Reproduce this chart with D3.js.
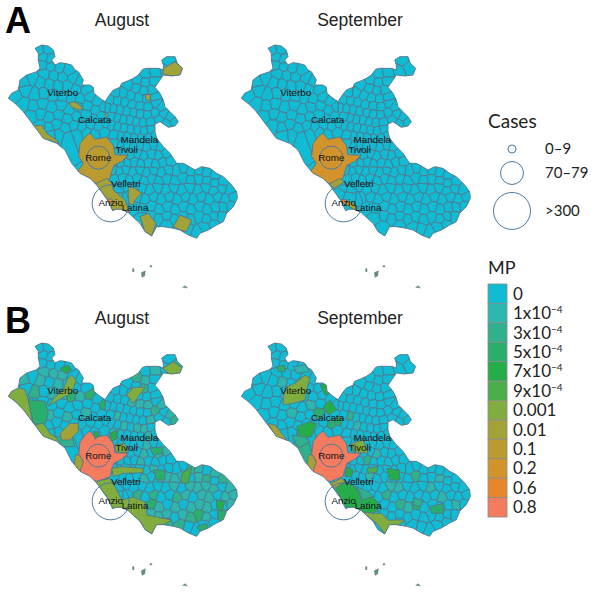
<!DOCTYPE html>
<html>
<head>
<meta charset="utf-8">
<script src="https://d3js.org/d3.v7.min.js"></script>
<style>
  html, body { margin: 0; padding: 0; background: #fff; }
  svg { display: block; }
</style>
</head>
<body>
<div id="chart"></div>
<script>
// MP classes
const mpBase = ["0","1x10","3x10","5x10","7x10","9x10","0.001","0.01","0.1","0.2","0.6","0.8"];
const mpExp = ["","−4","−4","−4","−4","−4","","","","","",""];
const mpColors = ["#10bcd3","#2cb6ad","#2fb18d","#2aae6c","#25ad4a","#4aae4a","#80ad3e","#a3a238","#bb9a30","#d2942a","#e8872a","#f47b5e"];

// cases legend
const caseLabels = ["0–9","70–79",">300"];
const caseValues = [5,75,300];

// places, in map units
const placeNames = ["Viterbo","Calcata","Mandela","Tivoli","Rome","Velletri","Anzio","Latina"];
const placeX = [188,284,418,380,295,377,332,405];
const placeY = [278,360,418,448,474,552,608,622];
const caseCircles = [{name:"Rome",u:295,v:473,cases:75},{name:"Anzio",u:332,v:610,cases:300}];

// region outline, in map units
const lazioOutline = [[105,145],[125,135],[145,138],[160,150],[165,170],[155,180],[165,195],[180,188],[195,190],[215,195],[225,210],[235,215],[250,240],[245,255],[270,255],[280,262],[282,280],[300,295],[315,305],[328,285],[340,270],[360,262],[365,250],[385,242],[400,235],[415,225],[428,208],[440,205],[475,205],[490,210],[490,195],[485,180],[500,170],[525,170],[532,190],[548,205],[540,225],[515,228],[490,225],[480,240],[465,262],[480,280],[490,300],[495,320],[510,335],[525,350],[535,365],[525,378],[505,382],[480,365],[465,372],[465,395],[470,415],[490,440],[510,460],[530,490],[550,490],[565,498],[585,510],[605,500],[630,505],[650,520],[670,530],[695,555],[710,575],[712,595],[700,620],[680,640],[670,665],[650,675],[625,690],[600,700],[590,715],[565,705],[540,690],[520,685],[490,680],[470,680],[455,708],[435,695],[420,670],[400,652],[385,638],[365,628],[348,628],[338,632],[322,600],[290,555],[270,535],[240,520],[215,490],[195,450],[170,430],[130,415],[100,375],[70,335],[45,310],[25,295],[35,280],[55,270],[60,240],[80,225],[110,215],[120,205],[115,180],[115,160]];
const islands = [[[398,806],[402,806],[402,815],[398,815]],[[424,818],[436,812],[434,828],[426,832]],[[450,797],[456,797],[455,801],[450,801]],[[548,862],[556,857],[562,864]]];

// one point per municipality
const municipalities = [
  [118,150],[142,148],[132,172],[150,178],[128,195],[152,200],[178,205],[205,212],[135,222],[160,226],[188,230],[218,235],[240,245],
  [72,245],[98,236],[122,246],[148,252],[175,258],[203,257],[228,268],[258,272],
  [48,285],[78,272],[104,283],[132,280],[160,284],[188,290],[214,292],[240,296],[268,290],[292,304],
  [72,312],[100,318],[128,312],[155,322],[184,316],[208,330],[234,322],[262,318],[288,330],[310,322],
  [96,348],[122,342],[148,352],[176,346],[204,356],[230,350],[258,344],[282,358],[304,348],
  [122,378],[146,382],[170,372],[196,384],[222,376],[246,382],[272,372],[296,380],[318,370],
  [152,406],[178,404],[204,412],[232,402],[258,396],[285,402],[312,396],
  [510,185],[522,200],[500,210],[462,218],[438,222],[412,240],[436,246],[462,244],[385,255],[408,264],[432,272],[456,270],
  [348,278],[370,280],[392,288],[416,294],[440,296],[464,292],[330,300],[352,302],[374,306],[396,314],[420,318],[444,320],[468,310],[484,322],
  [322,322],[340,326],[360,330],[380,334],[400,338],[420,342],[442,344],[466,338],[490,342],[510,352],[522,366],
  [335,350],[352,354],[370,358],[390,360],[408,366],[428,368],[450,366],[478,358],[500,370],
  [335,375],[352,380],[372,384],[392,388],[412,390],[432,392],[452,388],[345,405],[362,408],[382,410],[402,414],[424,416],[446,414],[464,404],
  [345,430],[362,436],[380,432],[400,440],[420,438],[440,442],[462,436],[480,440],
  [355,460],[372,462],[392,466],[412,460],[432,468],[454,462],[476,466],[498,460],
  [345,484],[362,488],[382,490],[402,486],[422,492],[444,488],[466,494],[488,486],[510,484],
  [340,510],[358,514],[378,508],[398,516],[420,510],[440,518],[462,512],[484,518],[506,510],[530,512],[550,506],[572,514],[596,512],[620,518],[644,526],
  [345,538],[366,532],[388,540],[410,534],[432,542],[454,534],[476,542],[500,536],[524,544],[548,532],[572,540],[596,536],[620,542],[644,548],[668,546],
  [300,546],[330,560],[355,566],[380,558],[402,570],[426,562],[450,572],[474,562],[498,570],[522,562],[546,572],[570,562],[594,570],[618,562],[642,572],[666,564],[690,570],
  [318,578],[352,590],[385,592],[412,590],[436,598],[460,590],[484,598],[508,590],[532,598],[556,590],[580,598],[604,590],[628,598],[652,590],[676,598],[700,590],
  [405,622],[430,626],[454,618],[478,628],[502,620],[526,628],[550,620],[574,628],[598,620],[622,628],[646,622],[670,620],[692,618],
  [428,652],[452,648],[476,656],[500,650],[524,658],[548,650],[572,658],[596,650],[620,658],[644,650],[664,650],
  [450,680],[500,672],[540,680],[565,685],[590,695],[615,680],[640,672]
];

// whole patches per panel: [class, polygon]
const romeShape = [[270,399],[285,418],[320,411],[340,436],[345,464],[385,466],[365,484],[342,496],[335,516],[330,536],[290,551],[260,536],[232,516],[250,490],[236,470],[240,431],[255,411]];
const romeWest = [[226,471],[238,470],[250,492],[238,524],[222,508]];

const augustA = [
  [8,romeShape],[7,[[490,205],[525,185],[548,205],[540,225],[515,228],[488,222]]],
  [7,[[435,285],[450,282],[452,298],[440,302]]],[7,[[208,308],[225,305],[250,325],[235,330],[212,320]]],
  [7,[[100,378],[125,375],[140,400],[170,420],[178,432],[150,420],[125,418]]],[7,[[310,335],[325,345],[320,352]]],
  [7,[[285,552],[320,535],[335,550],[340,570],[375,600],[390,640],[360,635],[340,635],[320,595]]],
  [7,[[385,560],[405,565],[425,580],[405,600],[400,615],[385,610]]],[7,[[420,650],[445,640],[468,670],[455,708],[435,695]]],
  [7,[[520,680],[540,645],[575,660],[560,695],[540,690]]],[10,[[322,598],[335,596],[340,605],[328,612]]]
];
const septemberA = [
  [9,romeShape],[7,[[289,552],[321,535],[333,545],[306,568]]],[10,[[326,597],[341,600],[339,615],[329,610]]],
  [7,[[341,600],[361,610],[381,635],[366,630],[339,615]]]
];
const augustB = [
  [6,[[20,295],[40,265],[75,275],[85,305],[100,378],[70,340]]],
  [3,[[85,305],[135,310],[145,345],[135,378],[100,378]]],
  [11,romeShape],[7,romeWest],[6,[[345,441],[375,436],[385,464],[348,462]]],
  [6,[[100,381],[130,376],[150,406],[180,426],[175,446],[140,426],[125,416]]],
  [2,[[165,416],[215,416],[225,446],[190,446]]],[7,[[180,406],[210,376],[235,376],[235,401],[210,426],[185,426]]],
  [6,[[145,324],[165,296],[190,276],[200,246],[215,231],[228,246],[222,268],[205,291],[185,301]]],
  [4,[[180,211],[205,201],[215,216],[195,226]]],[6,[[488,211],[520,191],[548,211],[540,231],[510,231]]],
  [6,[[380,291],[400,268],[435,268],[415,296],[400,316]]],
  [6,[[285,551],[330,541],[350,575],[366,606],[399,597],[435,612],[441,651],[516,666],[480,686],[455,708],[435,695],[420,670],[400,652],[385,640],[360,635],[340,635],[320,595]]],
  [3,[[450,451],[485,446],[490,466],[460,471]]],[3,[[460,516],[495,516],[495,546],[470,546]]],[5,[[545,526],[575,506],[565,556],[545,556]]],
  [4,[[650,606],[675,611],[665,641],[650,631]]],[3,[[590,686],[620,676],[625,696],[600,701]]],[5,[[630,691],[650,686],[645,708],[630,701]]],
  [6,[[335,511],[365,506],[430,511],[430,524],[370,526],[340,536]]],[4,[[280,401],[295,401],[295,416],[285,424]]],[4,[[330,406],[350,396],[352,421],[335,431]]]
];
const septemberB = [
  [11,romeShape],[7,romeWest],[7,[[106,376],[126,381],[146,406],[166,431],[146,421],[126,416]]],
  [6,[[151,321],[151,296],[161,266],[186,256],[216,231],[231,241],[221,276],[216,306],[181,316]]],
  [4,[[261,261],[281,256],[291,286],[276,291]]],[4,[[271,326],[291,306],[311,336],[286,351]]],[3,[[131,206],[156,201],[156,221],[136,221]]],[1,[[181,206],[216,201],[231,221],[191,226]]],
  [4,[[191,386],[231,371],[251,376],[236,416],[201,421]]],[2,[[176,411],[216,416],[231,431],[196,451]]],
  [4,[[306,571],[336,551],[366,566],[381,586],[421,596],[441,626],[421,646],[376,645],[345,635],[330,610]]],[2,[[371,566],[406,581],[421,596],[386,606]]],
  [7,[[291,556],[326,541],[336,551],[306,571]]],
  [6,[[376,640],[421,646],[446,646],[466,666],[516,666],[491,686],[456,708],[431,676],[406,656]]],
  [4,[[461,511],[499,516],[501,546],[471,546]]],[5,[[401,511],[436,506],[431,524],[406,526]]],[4,[[341,506],[361,516],[356,536],[336,536]]],
  [2,[[541,601],[571,606],[561,626],[541,621]]],[3,[[591,626],[631,616],[631,646],[596,646]]],[6,[[356,436],[391,426],[406,466],[361,461]]]
];

// single municipalities per panel: [class, points inside them]
const augustBCells = [
  [1,[[78,245],[175,258],[148,226],[438,246],[462,218],[510,352],[484,322],[450,366],[598,620],[526,628],[548,650],[620,658],[500,650],[524,544],[596,536],[628,598],[478,628],[405,622],[352,354],[258,344],[122,246],[160,284],[240,296],[204,356],[372,462],[432,542],[572,562],[642,572],[690,570],
      [596,512],[644,526],[548,532],[500,536],[476,542],[522,562],[594,570],[618,562],[556,590],[604,590],[676,598],[700,590],[574,628],[622,628],[692,618],[596,650],[476,656],[428,652],[452,648],[432,468],[476,466],[498,460],[422,492],[462,512],[396,314],[420,318],[444,320],[96,348],[122,342],[148,352],[135,222],[188,230],[372,384],[412,390],[432,392],[345,405],[446,414],[440,442]]],
  [2,[[104,283],[432,272],[522,200],[572,658],[540,680],[500,672],[532,598],[460,590],[412,590],[466,338],[522,366],[408,240],[620,542],[668,546],[572,514]]],
  [3,[[214,292],[268,290],[310,322],[664,650],[596,650],[454,618]]]
];
const septemberBCells = [
  [1,[[234,322],[176,346],[372,384],[410,534],[498,570],[596,570],[620,542],[148,252],[432,468],[476,566],[522,620],[620,590],[670,620]]],
  [2,[[352,354],[548,532],[460,590],[204,412],[498,620],[410,490]]],
  [3,[[296,380],[318,370],[550,620],[258,344]]]
];

// the four maps, with where each sits on the page
const panels = [
  {x:0,y:0,titleX:122,title:"August",patches:augustA,cells:[]},
  {x:233,y:0,titleX:127,title:"September",patches:septemberA,cells:[]},
  {x:0,y:298,titleX:122,title:"August",patches:augustB,cells:augustBCells},
  {x:233,y:298,titleX:127,title:"September",patches:septemberB,cells:septemberBCells}
];

const svg = d3.select("#chart").append("svg").attr("width",600).attr("height",601);
const mapFont = "'Liberation Sans', Arial, sans-serif";
const legendFont = "Lato, 'Open Sans', sans-serif";

// map units are 3x page pixels
const x = d3.scaleLinear().domain([0,720]).range([0,240]);
const y = d3.scaleLinear().domain([0,900]).range([0,300]);
const line = d3.line().x(d => x(d[0])).y(d => y(d[1])).curve(d3.curveLinearClosed);
const radius = d3.scaleLinear().domain(caseValues).range([4,11.5,18.5]);
const borderColor = "#55748a";

const delaunay = d3.Delaunay.from(municipalities);
const voronoi = delaunay.voronoi([0,100,720,760]);

svg.append("clipPath").attr("id","lazio").append("path").attr("d",line(lazioOutline));

//----------------------------------------------maps--------------------------------------------------
panels.forEach(p => {
  const g = svg.append("g").attr("transform","translate("+p.x+","+p.y+")");

  // class of each municipality
  const cellClass = municipalities.map(() => 0);
  p.cells.forEach(c => c[1].forEach(pt => { cellClass[delaunay.find(pt[0],pt[1])] = c[0]; }));

  const land = g.append("g").attr("clip-path","url(#lazio)");

  land.selectAll("path.cell")
    .data(municipalities)
    .enter()
    .append("path")
      .attr("class","cell")
      .attr("d",(d,i) => line(voronoi.cellPolygon(i).slice(0,-1)))
      .attr("fill",(d,i) => mpColors[cellClass[i]])
      .attr("stroke",borderColor)
      .attr("stroke-width",0.85);

  land.selectAll("path.patch")
    .data(p.patches)
    .enter()
    .append("path")
      .attr("class","patch")
      .attr("d",d => line(d[1]))
      .attr("fill",d => mpColors[d[0]])
      .attr("stroke",borderColor)
      .attr("stroke-width",0.85);

  g.append("path")
    .attr("d",line(lazioOutline))
    .attr("fill","none")
    .attr("stroke",borderColor)
    .attr("stroke-width",0.9);

  g.selectAll("path.island")
    .data(islands)
    .enter()
    .append("path")
      .attr("class","island")
      .attr("d",d => line(d))
      .attr("fill","#5f8f80")
      .attr("stroke","#55706f")
      .attr("stroke-width",0.4);

  g.selectAll("circle")
    .data(caseCircles)
    .enter()
    .append("circle")
      .attr("cx",d => x(d.u))
      .attr("cy",d => y(d.v))
      .attr("r",d => radius(d.cases))
      .attr("fill","none")
      .attr("stroke","#4a7ba3")
      .attr("stroke-width",1);

  g.selectAll("text.place")
    .data(placeNames)
    .enter()
    .append("text")
      .attr("class","place")
      .attr("x",(d,i) => x(placeX[i]))
      .attr("y",(d,i) => y(placeY[i]) + 3.3)
      .attr("text-anchor","middle")
      .attr("font-family",mapFont)
      .attr("font-size",9.8)
      .attr("fill","#111")
      .text(d => d);

  g.append("text")
    .attr("x",p.titleX)
    .attr("y",26)
    .attr("text-anchor","middle")
    .attr("font-family",mapFont)
    .attr("font-size",17.5)
    .attr("fill","#222")
    .text(p.title);
});

//----------------------------------------------panel letters-----------------------------------------
svg.selectAll("text.letter")
  .data([{t:"A",y:33},{t:"B",y:333}])
  .enter()
  .append("text")
    .attr("class","letter")
    .attr("x",5)
    .attr("y",d => d.y)
    .attr("font-family",mapFont)
    .attr("font-weight","bold")
    .attr("font-size",36)
    .attr("fill","#000")
    .text(d => d.t);

//----------------------------------------------cases legend------------------------------------------
const caseY = d3.scaleOrdinal().domain(caseLabels).range([149,173,211]);

svg.append("text").attr("x",488).attr("y",128)
  .attr("font-family",legendFont).attr("font-size",19).attr("fill","#222").text("Cases");

svg.selectAll("circle.legend")
  .data(caseLabels)
  .enter()
  .append("circle")
    .attr("class","legend")
    .attr("cx",512)
    .attr("cy",d => caseY(d))
    .attr("r",(d,i) => radius(caseValues[i]))
    .attr("fill","none")
    .attr("stroke","#4a7ba3")
    .attr("stroke-width",1);

svg.selectAll("text.caselabel")
  .data(caseLabels)
  .enter()
  .append("text")
    .attr("class","caselabel")
    .attr("x",545)
    .attr("y",d => caseY(d) + 5)
    .attr("font-family",legendFont)
    .attr("font-size",15)
    .attr("fill","#222")
    .text(d => d);

//----------------------------------------------MP legend---------------------------------------------
const band = d3.scaleBand().domain(mpBase).range([284,517]);

svg.append("text").attr("x",488).attr("y",274)
  .attr("font-family",legendFont).attr("font-size",18).attr("fill","#222").text("MP");

svg.selectAll("rect.mp")
  .data(mpBase)
  .enter()
  .append("rect")
    .attr("class","mp")
    .attr("x",488)
    .attr("y",d => band(d))
    .attr("width",19)
    .attr("height",band.bandwidth())
    .attr("fill",(d,i) => mpColors[i])
    .attr("stroke","#8b8b8b")
    .attr("stroke-width",0.8);

const mpText = svg.selectAll("text.mplabel")
  .data(mpBase)
  .enter()
  .append("text")
    .attr("class","mplabel")
    .attr("x",513)
    .attr("y",d => band(d) + band.bandwidth()/2 + 6)
    .attr("font-family",legendFont)
    .attr("font-size",17)
    .attr("fill","#222");

mpText.append("tspan").text(d => d);
mpText.append("tspan")
  .attr("dy",-6)
  .attr("font-size",10)
  .text((d,i) => mpExp[i]);
</script>
</body>
</html>
